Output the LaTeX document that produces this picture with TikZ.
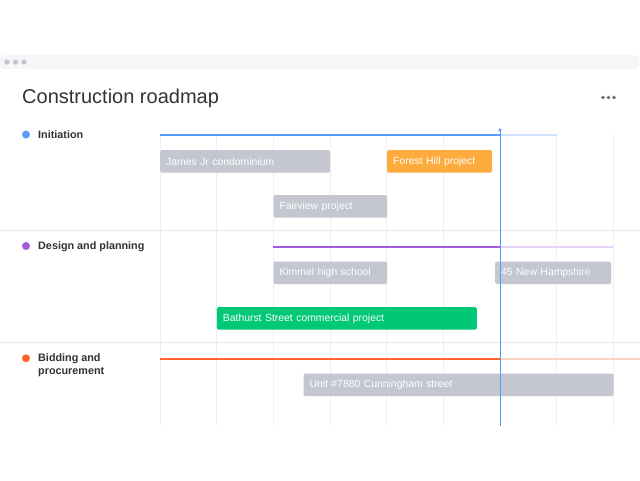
\documentclass[tikz,border=0pt]{standalone}
\usepackage{fontspec}
\setmainfont{Liberation Sans}
\definecolor{topbar}{HTML}{F5F6F8}
\definecolor{topdot}{HTML}{C3C5CE}
\definecolor{gridc}{HTML}{EEEFF3}
\definecolor{sepc}{HTML}{E8E9EF}
\definecolor{titlec}{HTML}{323338}
\definecolor{menuc}{HTML}{676879}
\definecolor{barg}{HTML}{C4C6D0}
\definecolor{baro}{HTML}{FDAB3D}
\definecolor{bargr}{HTML}{00C875}
\definecolor{pblue}{HTML}{579BFC}
\definecolor{pbluel}{HTML}{CFE1FE}
\definecolor{ppurp}{HTML}{A25DDC}
\definecolor{ppurpl}{HTML}{E6D5F6}
\definecolor{pred}{HTML}{FF642E}
\definecolor{predl}{HTML}{FFD3C4}
\definecolor{nowc}{HTML}{4A9BFF}
\tikzset{
  bar/.style={anchor=north west, rounded corners=1.5pt, inner xsep=6pt, inner ysep=0pt,
    minimum height=22.5pt, align=left, text=white, font=\fontsize{10.4}{12}\selectfont},
  phase/.style={anchor=west, inner sep=0pt, text=titlec, align=left,
    font=\fontsize{10.8}{13.5}\selectfont\bfseries},
  pdot/.style={circle, inner sep=0pt, minimum size=8pt},
  gridline/.style={draw=gridc, line width=0.8pt},
  sepline/.style={draw=sepc, line width=0.8pt},
  tl/.style={line width=2.2pt},
}
\begin{document}
\begin{tikzpicture}[x=1pt,y=-1pt]
\useasboundingbox (0,0) rectangle (640,480);
\fill[white] (0,0) rectangle (640,480);
% top bar
\fill[topbar, rounded corners=4pt] (0,55) rectangle (639,69);
\foreach \x in {7,15.5,24}{\fill[topdot] (\x,62) circle (2.6pt);}
% title
\node[anchor=base west, inner sep=0pt, text=titlec, font=\fontsize{20}{24}\selectfont] (title) at (22,103) {Construction roadmap};
\foreach \x in {603,608.5,614}{\fill[menuc] (\x,97.5) circle (1.9pt);}
% grid
\foreach \x in {160,216.7,273.3,330,386.7,443.3,556.7,613.3}{\draw[gridline] (\x,135) -- (\x,426);}
\draw[sepline] (0,230.5) -- (640,230.5);
\draw[sepline] (0,342.5) -- (640,342.5);
% phases
\node[pdot, fill=pblue] (d1) at (26,134.5) {};
\node[phase] (p1) at (38,134.5) {Initiation};
\node[pdot, fill=ppurp] (d2) at (26,246) {};
\node[phase] (p2) at (38,246.5) {Design and planning};
\node[pdot, fill=pred] (d3) at (26,358.3) {};
\node[phase, anchor=north west] (p3) at (38,353.3) {Bidding and\\procurement};
% timeline lines
\coordinate (a1) at (160,135.2); \coordinate (n1) at (500,135.2); \coordinate (e1) at (557,135.2);
\draw[tl, pbluel] (n1) -- (e1);
\draw[tl, pblue] (a1) -- (n1);
\coordinate (a2) at (273.3,246.7); \coordinate (n2) at (500,246.7); \coordinate (e2) at (613.3,246.7);
\draw[tl, line width=1.8pt, ppurpl] (n2) -- (e2);
\draw[tl, line width=1.8pt, ppurp] (a2) -- (n2);
\coordinate (a3) at (160,358.7); \coordinate (n3) at (500,358.7); \coordinate (e3) at (640,358.7);
\draw[tl, line width=1.8pt, predl] (n3) -- (e3);
\draw[tl, line width=1.8pt, pred] (a3) -- (n3);
% bars
\node[bar, fill=barg, text width=158pt] (b1) at (160,150) {James Jr condominium};
\node[bar, fill=baro, text width=93pt] (b2) at (387,150) {Forest Hill project};
\node[bar, fill=barg, text width=101.7pt] (b3) at (273.3,195) {Fairview project};
\node[bar, fill=barg, text width=101.7pt] (b4) at (273.3,261.3) {Kimmel high school};
\node[bar, fill=barg, text width=104pt] (b5) at (495,261.3) {45 New Hampshire};
\node[bar, fill=bargr, text width=248pt] (b6) at (216.7,307) {Bathurst Street commercial project};
\node[bar, fill=barg, text width=298pt] (b7) at (303.3,373.3) {Unit \#7880 Cunningham street};
% now line
\coordinate (nowtop) at (500,130);
\coordinate (nowbot) at (500,426);
\draw[nowc, line width=1pt] (nowtop) -- (nowbot);
\fill[nowc] (nowtop) circle (1.6pt);
\end{tikzpicture}
\end{document}
